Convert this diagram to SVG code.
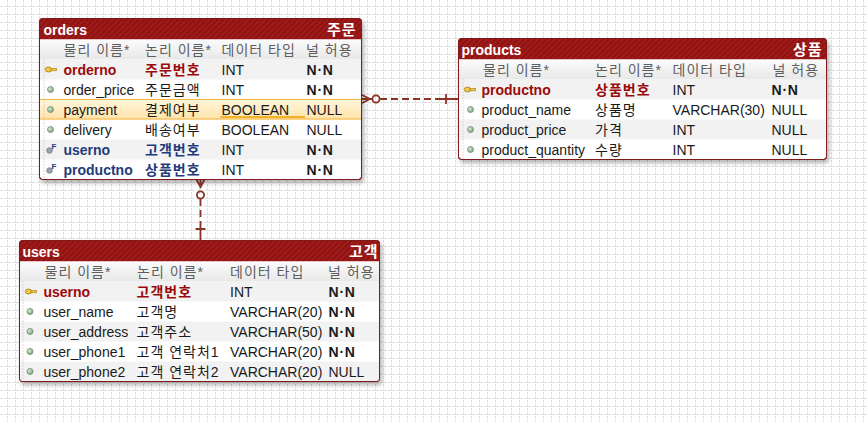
<svg xmlns="http://www.w3.org/2000/svg" width="868" height="422" viewBox="0 0 868 422">
<style>
text{font-family:"Liberation Sans","Noto Sans CJK KR",sans-serif;font-size:14px;fill:#1a1a1a}
.k{letter-spacing:1px}
.ttl{fill:#fff;font-weight:bold}
.tk{font-size:15px;letter-spacing:1px}
.hd{fill:#5e5e5e;letter-spacing:1px}
.pk{fill:#9a0a0a;font-weight:bold}
.fk{fill:#233b7a;font-weight:bold}
.b{font-weight:bold;letter-spacing:0.8px}
.frame{fill:#fff;stroke:#7e1c1c;stroke-width:1}
.bar{fill:url(#stripe)}
.hdr{fill:url(#hdrg)}
.alt{fill:#f2f2f2}
.dotl{stroke:#dcb0b0;stroke-width:1;stroke-dasharray:1 2;fill:none}
.att{fill:url(#dotg);stroke:#6f8f6f;stroke-width:0.8}
.cn{stroke:#8a3424;stroke-width:1.8;fill:none}
.cnd{stroke:#8a3424;stroke-width:1.8;fill:none;stroke-dasharray:7 4}
</style>
<defs>
<pattern id="grid" width="8" height="8" patternUnits="userSpaceOnUse">
<rect width="8" height="8" fill="#fff"/>
<path d="M7.5 0V8M0 6.5H8" stroke="#e0e0e0" stroke-width="1" stroke-dasharray="3 1"/>
</pattern>
<pattern id="stripe" width="4" height="4" patternUnits="userSpaceOnUse" patternTransform="rotate(45)">
<rect width="4" height="4" fill="#921212"/>
<rect width="1.5" height="4" fill="#a01f1f"/>
</pattern>
<linearGradient id="hdrg" x1="0" y1="0" x2="0" y2="1">
<stop offset="0" stop-color="#fbfbfb"/>
<stop offset="1" stop-color="#e8e8e8"/>
</linearGradient>
<linearGradient id="hlg" x1="0" y1="0" x2="0" y2="1">
<stop offset="0" stop-color="#fff6dc"/>
<stop offset="1" stop-color="#ffe2a8"/>
</linearGradient>
<radialGradient id="dotg" cx="0.35" cy="0.35" r="0.7">
<stop offset="0" stop-color="#d6e8d6"/>
<stop offset="1" stop-color="#7fa07f"/>
</radialGradient>
<filter id="sh" x="-5%" y="-5%" width="112%" height="115%">
<feDropShadow dx="2" dy="3" stdDeviation="2" flood-color="#000" flood-opacity="0.3"/>
</filter>
<g id="key">
<ellipse cx="-2" cy="0" rx="3.2" ry="2.5" fill="#f2c84a" stroke="#a07a10" stroke-width="0.8"/>
<rect x="0.5" y="-1.1" width="5.5" height="2.4" fill="#f2c84a" stroke="#a07a10" stroke-width="0.6"/>
</g>
<circle id="att" cx="0" cy="0" r="3" class="att"/>
</defs>

<rect width="868" height="422" fill="url(#grid)"/>

<g id="connectors">
<path class="cn" d="M362 95L370 99L362 103M362 99H372"/>
<circle class="cn" cx="376" cy="99" r="3.6" fill="#fff"/>
<path class="cnd" d="M380 99H436"/>
<path class="cn" d="M436 99H458M446 94V104"/>
<path class="cn" d="M196.5 179.5L200.5 187L204.5 179.5M200.5 179.5V188"/>
<circle class="cn" cx="200.5" cy="195" r="3.6" fill="#fff"/>
<path class="cnd" d="M200.5 199V225"/>
<path class="cn" d="M200.5 225V240.5M195.5 229H205.5"/>
</g>

<g id="orders" transform="translate(39.5,18.5)">
<rect class="frame" width="322" height="161" rx="3" filter="url(#sh)"/>
<path class="bar" d="M0 21V3A3 3 0 0 1 3 0H319A3 3 0 0 1 322 3V21Z"/>
<rect class="hdr" x="0.5" y="21" width="321" height="20"/>
<rect class="alt" x="0.5" y="41" width="321" height="20"/>
<rect fill="url(#hlg)" x="0.5" y="81" width="321" height="20"/>
<path d="M0.5 81H321.5M0.5 100.5H321.5" stroke="#f2b640" stroke-width="1"/>
<rect class="alt" x="0.5" y="121" width="321" height="20"/>
<path d="M181 98.5H265.5" stroke="#eda000" stroke-width="1.6"/>
<path class="dotl" d="M4.5 41V160"/>
<rect class="frame" width="322" height="161" rx="3" style="fill:none"/>
<text class="ttl" x="4" y="16">orders</text>
<text class="ttl tk" x="317" y="16" text-anchor="end">주문</text>
<text class="hd" x="24" y="36">물리 이름*</text>
<text class="hd" x="105.5" y="36">논리 이름*</text>
<text class="hd" x="182" y="36">데이터 타입</text>
<text class="hd" x="266.5" y="36">널 허용</text>
<use href="#key" x="11" y="51"/>
<text class="pk" x="24" y="56">orderno</text>
<text class="pk k" x="105.5" y="56">주문번호</text>
<text x="182" y="56">INT</text>
<text class="b" x="267" y="56">N·N</text>
<use href="#att" x="11" y="71"/>
<text x="24" y="76">order_price</text>
<text class="k" x="105.5" y="76">주문금액</text>
<text x="182" y="76">INT</text>
<text class="b" x="267" y="76">N·N</text>
<use href="#att" x="11" y="91"/>
<text x="24" y="96">payment</text>
<text class="k" x="105.5" y="96">결제여부</text>
<text x="182" y="96">BOOLEAN</text>
<text x="267" y="96">NULL</text>
<use href="#att" x="11" y="111"/>
<text x="24" y="116">delivery</text>
<text class="k" x="105.5" y="116">배송여부</text>
<text x="182" y="116">BOOLEAN</text>
<text x="267" y="116">NULL</text>
<circle cx="10" cy="132" r="2.8" fill="#9aa4b0" stroke="#6a7480" stroke-width="0.7"/>
<text class="fk" x="12" y="130" style="font-size:8px">F</text>
<text class="fk" x="24" y="136">userno</text>
<text class="fk k" x="105.5" y="136">고객번호</text>
<text x="182" y="136">INT</text>
<text class="b" x="267" y="136">N·N</text>
<circle cx="10" cy="152" r="2.8" fill="#9aa4b0" stroke="#6a7480" stroke-width="0.7"/>
<text class="fk" x="12" y="150" style="font-size:8px">F</text>
<text class="fk" x="24" y="156">productno</text>
<text class="fk k" x="105.5" y="156">상품번호</text>
<text x="182" y="156">INT</text>
<text class="b" x="267" y="156">N·N</text>
</g>

<g id="products" transform="translate(458.5,38.5)">
<rect class="frame" width="368" height="121" rx="3" filter="url(#sh)"/>
<path class="bar" d="M0 21V3A3 3 0 0 1 3 0H365A3 3 0 0 1 368 3V21Z"/>
<rect class="hdr" x="0.5" y="21" width="367" height="20"/>
<rect class="alt" x="0.5" y="41" width="367" height="20"/>
<rect class="alt" x="0.5" y="81" width="367" height="20"/>
<path class="dotl" d="M4.5 41V120"/>
<rect class="frame" width="368" height="121" rx="3" style="fill:none"/>
<text class="ttl" x="3" y="16">products</text>
<text class="ttl tk" x="364" y="16" text-anchor="end">상품</text>
<text class="hd" x="24.5" y="36">물리 이름*</text>
<text class="hd" x="136.5" y="36">논리 이름*</text>
<text class="hd" x="214" y="36">데이터 타입</text>
<text class="hd" x="314" y="36">널 허용</text>
<use href="#key" x="11" y="51"/>
<text class="pk" x="23" y="56">productno</text>
<text class="pk k" x="136.5" y="56">상품번호</text>
<text x="214" y="56">INT</text>
<text class="b" x="313" y="56">N·N</text>
<use href="#att" x="12" y="71"/>
<text x="23" y="76">product_name</text>
<text class="k" x="136.5" y="76">상품명</text>
<text x="214" y="76">VARCHAR(30)</text>
<text x="313" y="76">NULL</text>
<use href="#att" x="12" y="91"/>
<text x="23" y="96">product_price</text>
<text class="k" x="136.5" y="96">가격</text>
<text x="214" y="96">INT</text>
<text x="313" y="96">NULL</text>
<use href="#att" x="12" y="111"/>
<text x="23" y="116">product_quantity</text>
<text class="k" x="136.5" y="116">수량</text>
<text x="214" y="116">INT</text>
<text x="313" y="116">NULL</text>
</g>

<g id="users" transform="translate(19.5,240.5)">
<rect class="frame" width="360" height="141" rx="3" filter="url(#sh)"/>
<path class="bar" d="M0 21V3A3 3 0 0 1 3 0H357A3 3 0 0 1 360 3V21Z"/>
<rect class="hdr" x="0.5" y="21" width="359" height="20"/>
<rect class="alt" x="0.5" y="41" width="359" height="20"/>
<rect class="alt" x="0.5" y="81" width="359" height="20"/>
<rect class="alt" x="0.5" y="121" width="359" height="19.5"/>
<path class="dotl" d="M3.5 41V140"/>
<rect class="frame" width="360" height="141" rx="3" style="fill:none"/>
<text class="ttl" x="3" y="16">users</text>
<text class="ttl tk" x="359" y="16" text-anchor="end">고객</text>
<text class="hd" x="25" y="36">물리 이름*</text>
<text class="hd" x="117.5" y="36">논리 이름*</text>
<text class="hd" x="210.5" y="36">데이터 타입</text>
<text class="hd" x="308.5" y="36">널 허용</text>
<use href="#key" x="11" y="51"/>
<text class="pk" x="24" y="56">userno</text>
<text class="pk k" x="117" y="56">고객번호</text>
<text x="210.5" y="56">INT</text>
<text class="b" x="309" y="56">N·N</text>
<use href="#att" x="10.5" y="71"/>
<text x="24" y="76">user_name</text>
<text class="k" x="117" y="76">고객명</text>
<text x="210.5" y="76">VARCHAR(20)</text>
<text class="b" x="309" y="76">N·N</text>
<use href="#att" x="10.5" y="91"/>
<text x="24" y="96">user_address</text>
<text class="k" x="117" y="96">고객주소</text>
<text x="210.5" y="96">VARCHAR(50)</text>
<text class="b" x="309" y="96">N·N</text>
<use href="#att" x="10.5" y="111"/>
<text x="24" y="116">user_phone1</text>
<text class="k" x="117" y="116">고객 연락처1</text>
<text x="210.5" y="116">VARCHAR(20)</text>
<text class="b" x="309" y="116">N·N</text>
<use href="#att" x="10.5" y="131"/>
<text x="24" y="136">user_phone2</text>
<text class="k" x="117" y="136">고객 연락처2</text>
<text x="210.5" y="136">VARCHAR(20)</text>
<text x="309" y="136">NULL</text>
</g>
</svg>
